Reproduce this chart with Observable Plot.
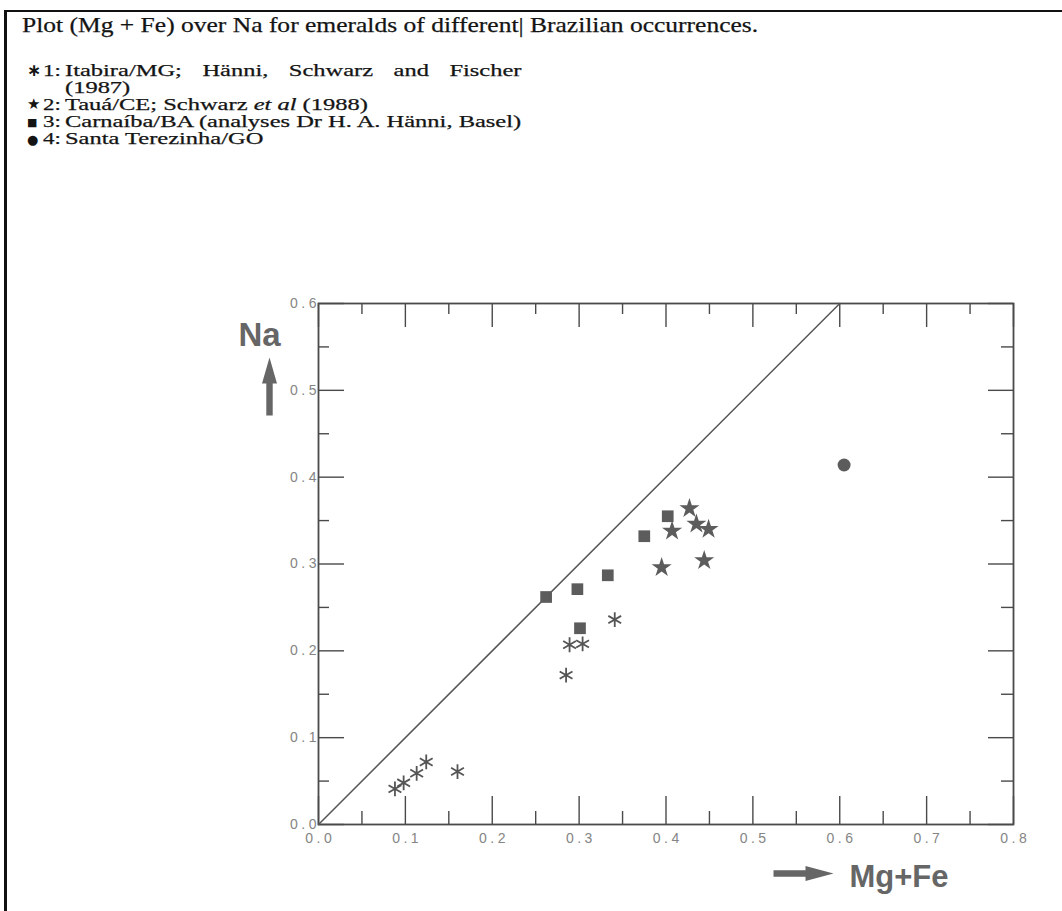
<!DOCTYPE html>
<html>
<head>
<meta charset="utf-8">
<script src="https://cdn.jsdelivr.net/npm/d3@7"></script>
<script src="https://cdn.jsdelivr.net/npm/@observablehq/plot@0.6"></script>
<style>
  html, body { margin: 0; padding: 0; background: #fff; width: 1062px; height: 911px; overflow: hidden; }
  #page { position: relative; width: 1062px; height: 911px; overflow: hidden; }
  #border { position: absolute; left: 4px; top: 10px; width: 1100px; height: 950px; border-left: 3px solid #111; border-top: 2px solid #111; pointer-events: none; }
  #header { position: relative; width: 1062px; height: 160px; font-family: "Liberation Serif", "Times New Roman", serif; color: #141414; -webkit-text-stroke: 0.25px #141414; }
  #title { position: absolute; left: 22px; top: 13px; font-size: 22px; line-height: 24px; white-space: nowrap; transform: scaleX(1.16); transform-origin: 0 0; }
  .row { position: absolute; left: 0; font-size: 17px; line-height: 17px; height: 17px; white-space: nowrap; }
  .sym { position: absolute; left: 27px; font-family: "DejaVu Sans", sans-serif; -webkit-text-stroke: 0; }
  .num { position: absolute; left: 43px; transform: scaleX(1.35); transform-origin: 0 0; }
  .txt { position: absolute; left: 65px; transform: scaleX(1.44); transform-origin: 0 0; }
  .just { display: inline-block; width: 317px; text-align: justify; text-align-last: justify; white-space: normal; }
  #chart { position: relative; }
  #chart svg text { font-family: "Liberation Sans", Arial, sans-serif; }
  #chart g[aria-label="x-axis tick label"] text, #chart g[aria-label="y-axis tick label"] text { letter-spacing: 3.5px; }
</style>
</head>
<body>
<div id="page">
  <div id="header">
    <div id="title">Plot (Mg + Fe) over Na for emeralds of different| Brazilian occurrences.</div>
    <div id="legend"></div>
  </div>
  <div id="chart"></div>
  <div id="border"></div>
</div>
<script>
// ---- data ----
const itabiraX   = [0.088, 0.098, 0.113, 0.124, 0.160, 0.285, 0.289, 0.304, 0.341];
const itabiraY   = [0.041, 0.048, 0.059, 0.072, 0.061, 0.172, 0.207, 0.208, 0.236];
const tauaX      = [0.395, 0.407, 0.427, 0.435, 0.444, 0.449];
const tauaY      = [0.296, 0.338, 0.364, 0.346, 0.304, 0.340];
const carnaibaX  = [0.262, 0.298, 0.301, 0.333, 0.375, 0.402];
const carnaibaY  = [0.262, 0.271, 0.226, 0.287, 0.332, 0.355];
const terezinhaX = [0.605];
const terezinhaY = [0.414];
const diagonalX  = [0, 0.6];
const diagonalY  = [0, 0.6];

const xTickLabels = [0, 0.1, 0.2, 0.3, 0.4, 0.5, 0.6, 0.7, 0.8];
const yTickLabels = [0, 0.1, 0.2, 0.3, 0.4, 0.5, 0.6];
const xMinorTicks = [0.05, 0.15, 0.25, 0.35, 0.45, 0.55, 0.65, 0.75];
const yMinorTicks = [0.05, 0.15, 0.25, 0.35, 0.45, 0.55];

const legendSymbols = ["\u2217", "\u2605", "\u25A0", "\u25CF"];
const legendNumbers = ["1:", "2:", "3:", "4:"];
const legendTexts = [
  "Itabira/MG; Hänni, Schwarz and Fischer",
  "Tauá/CE; Schwarz <i>et al</i> (1988)",
  "Carnaíba/BA (analyses Dr H. A. Hänni, Basel)",
  "Santa Terezinha/GO"
];

// ---- legend (HTML above the svg) ----
const legend = document.getElementById("legend");
const rowTops = [62, 96, 113, 130];
const symSizes = ["17px", "15px", "11px", "13px"];
const symTops = ["0px", "0px", "1px", "1px"];
legendTexts.forEach((t, i) => {
  const row = document.createElement("div");
  row.className = "row";
  row.style.top = rowTops[i] + "px";
  const s = document.createElement("span");
  s.className = "sym"; s.textContent = legendSymbols[i];
  s.style.fontSize = symSizes[i]; s.style.top = symTops[i];
  if (i === 0) s.style.fontWeight = "bold";
  const n = document.createElement("span"); n.className = "num"; n.textContent = legendNumbers[i];
  const tx = document.createElement("span"); tx.className = "txt";
  if (i === 0) {
    tx.innerHTML = '<span class="just">' + t + '</span><br><span>(1987)</span>';
  } else tx.innerHTML = t;
  row.append(s, n, tx);
  legend.append(row);
});

// ---- chart ----
const zip = (xs, ys) => xs.map((x, i) => ({x, y: ys[i]}));
const itabira = zip(itabiraX, itabiraY);
const taua = zip(tauaX, tauaY);
const carnaiba = zip(carnaibaX, carnaibaY);
const terezinha = zip(terezinhaX, terezinhaY);
const diagonal = zip(diagonalX, diagonalY);

const W = 1062, H = 751;
const mT = 143, mL = 318, mR = 49, mB = 87;
const FW = W - mL - mR, FH = H - mT - mB;
const ink = "#4a4a4a";
const markFill = "#5c5c5c";
const labelGray = "#858585";

const arrowUp = { draw(c) {
  c.moveTo(0, -29); c.lineTo(7.5, -3); c.lineTo(3.2, -3); c.lineTo(3.2, 29);
  c.lineTo(-3.2, 29); c.lineTo(-3.2, -3); c.lineTo(-7.5, -3); c.closePath();
}};
const arrowRight = { draw(c) {
  c.moveTo(30, 0); c.lineTo(2, -7.5); c.lineTo(2, -3.2); c.lineTo(-30, -3.2);
  c.lineTo(-30, 3.2); c.lineTo(2, 3.2); c.lineTo(2, 7.5); c.closePath();
}};

const chart = Plot.plot({
  width: W, height: H,
  marginTop: mT, marginLeft: mL, marginRight: mR, marginBottom: mB,
  x: {domain: [0, 0.8], axis: null},
  y: {domain: [0, 0.6], axis: null},
  style: {background: "transparent", overflow: "visible"},
  marks: [
    // tick labels
    Plot.axisX(xTickLabels, {anchor: "bottom", tickSize: 0, tickPadding: 9, dx: 1.75, tickFormat: d3.format(".1f"), fontSize: 14, color: labelGray, label: null}),
    Plot.axisY(yTickLabels, {anchor: "left", tickSize: 0, tickPadding: 0, dx: 1.5, tickFormat: d3.format(".1f"), fontSize: 14, color: labelGray, label: null}),
    // inward ticks, all four sides
    Plot.ruleX(xTickLabels, {insetTop: FH - 28, stroke: ink, strokeWidth: 1.4}),
    Plot.ruleX(xMinorTicks, {insetTop: FH - 13, stroke: ink, strokeWidth: 1.4}),
    Plot.ruleX(xTickLabels, {insetBottom: FH - 24, stroke: ink, strokeWidth: 1.4}),
    Plot.ruleX(xMinorTicks, {insetBottom: FH - 11, stroke: ink, strokeWidth: 1.4}),
    Plot.ruleY(yTickLabels, {insetRight: FW - 26, stroke: ink, strokeWidth: 1.4}),
    Plot.ruleY(yMinorTicks, {insetRight: FW - 11, stroke: ink, strokeWidth: 1.4}),
    Plot.ruleY(yTickLabels, {insetLeft: FW - 25, stroke: ink, strokeWidth: 1.4}),
    Plot.ruleY(yMinorTicks, {insetLeft: FW - 12, stroke: ink, strokeWidth: 1.4}),
    Plot.frame({stroke: ink, strokeWidth: 1.8}),
    // 1:1 line
    Plot.line(diagonal, {x: "x", y: "y", stroke: "#555", strokeWidth: 1.5}),
    // data
    Plot.dot(itabira, {x: "x", y: "y", symbol: "asterisk", r: 7, stroke: "#555", strokeWidth: 1.8}),
    Plot.dot(taua, {x: "x", y: "y", symbol: "star", r: 6.3, fill: markFill, stroke: "none"}),
    Plot.dot(carnaiba, {x: "x", y: "y", symbol: "square", r: 6.6, fill: markFill, stroke: "none"}),
    Plot.dot(terezinha, {x: "x", y: "y", symbol: "circle", r: 6.5, fill: markFill, stroke: "none"}),
    // axis titles with arrows
    Plot.text(["Na"], {frameAnchor: "top-left", text: d => d, dx: -59, dy: 32, fontSize: 33, fontWeight: "bold", fill: "#666", textAnchor: "middle", lineAnchor: "middle"}),
    Plot.dot([0], {frameAnchor: "top-left", dx: -49, dy: 83, symbol: arrowUp, r: 5, fill: "#666", stroke: "none"}),
    Plot.dot([0], {frameAnchor: "bottom-right", dx: -210, dy: 49, symbol: arrowRight, r: 5, fill: "#666", stroke: "none"}),
    Plot.text(["Mg+Fe"], {frameAnchor: "bottom-right", text: d => d, dx: -164, dy: 53, fontSize: 31, fontWeight: "bold", fill: "#666", textAnchor: "start", lineAnchor: "middle"})
  ]
});
document.getElementById("chart").append(chart);
</script>
</body>
</html>
